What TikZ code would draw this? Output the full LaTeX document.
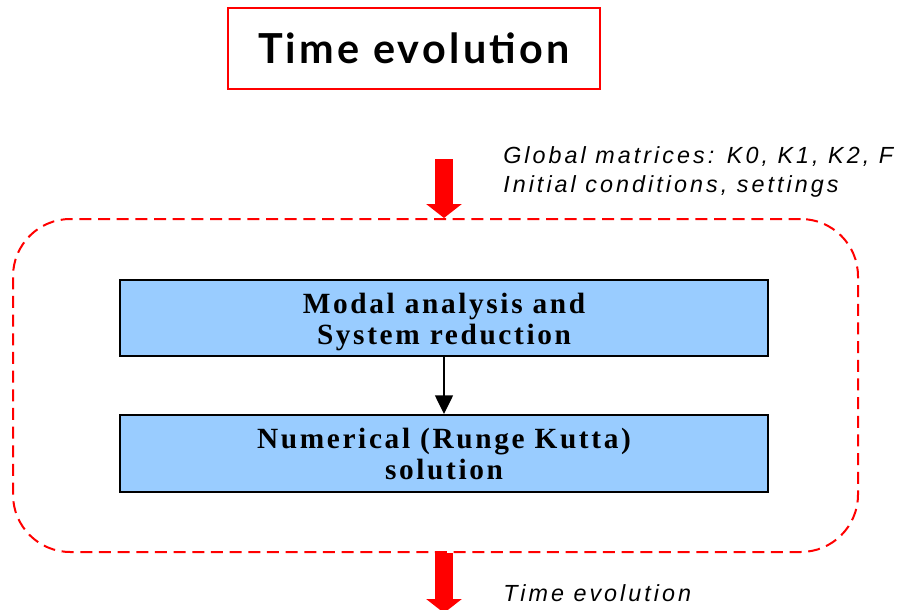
\documentclass[tikz,border=0pt]{standalone}
\usepackage{fontspec}
\usepackage{tikz}
\usetikzlibrary{arrows.meta,positioning,calc}
\setmainfont{Liberation Sans}
\newfontfamily\titlefont[LetterSpace=8]{Lato}
\newfontfamily\notefont[LetterSpace=13]{Liberation Sans}
\newfontfamily\stepfont[LetterSpace=9]{Liberation Serif}
\definecolor{BoxBlue}{HTML}{99CCFF}
\definecolor{FrameRed}{HTML}{FF0000}

\begin{document}
\begin{tikzpicture}[x=0.75pt,y=-0.75pt,
  stepbox/.style={draw=black,line width=1.5pt,fill=BoxBlue,minimum width=486pt,minimum height=57pt,
    inner sep=0pt,align=center,font=\stepfont\bfseries\fontsize{22}{23.25}\selectfont},
  notetext/.style={anchor=base west,align=left,inner sep=0pt,font=\notefont\itshape\fontsize{17.5}{21.75}\selectfont},
  blockarrow/.style={FrameRed,line width=13.5pt,-{Triangle[width=26.25pt,length=10.5pt]}}]
  \useasboundingbox (0,0) rectangle (904,610);

  % title
  \node[draw=FrameRed,line width=1.5pt,minimum width=279pt,minimum height=60.75pt,
    font=\titlefont\bfseries\fontsize{31}{36}\selectfont] (title) at (414,48.5) {Time evolution};

  % dashed frame and the two steps
  \node[draw=FrameRed,dashed,dash pattern=on 9pt off 5pt,line width=1.5pt,rounded corners=43pt,
    minimum width=633.75pt,minimum height=249.75pt] (loop) at (435.5,385.5) {};
  \node[stepbox,text height=45pt] (modal) at (444,318) {Modal analysis and\\System reduction};
  \node[stepbox,minimum height=57.75pt] (numeric) at (444,453.5) {Numerical (Runge Kutta)\\solution};
  \draw[line width=1.1pt,-{Triangle[width=13.5pt,length=14pt]}] (modal) -- (numeric);

  % input and output
  \coordinate (in) at (444,159);
  \coordinate (out) at (444,613);
  \draw[blockarrow] (in) -- (loop.north -| modal);
  \draw[blockarrow] (loop.south -| modal) -- (out);
  \node[notetext] (inputs) at (503,192) {Global matrices: K0, K1, K2, F\\Initial conditions, settings};
  \node[notetext] (result) at (503,601) {Time evolution};
\end{tikzpicture}
\end{document}
